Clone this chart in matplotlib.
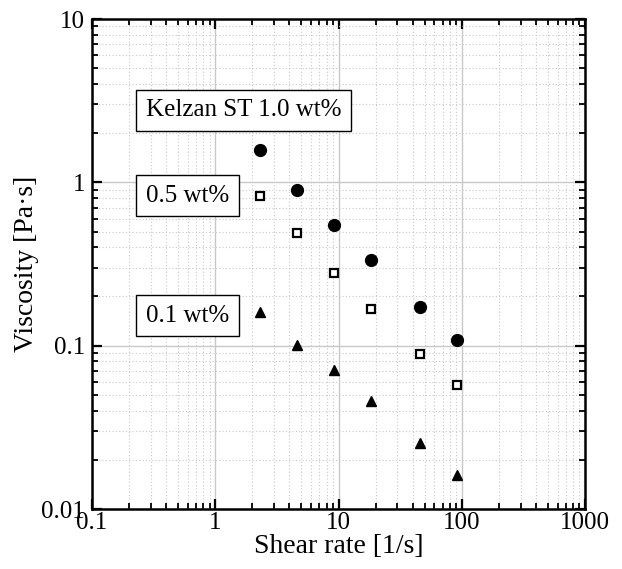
import matplotlib
matplotlib.use("Agg")
import matplotlib.pyplot as plt
from matplotlib.ticker import LogLocator, FixedLocator, FixedFormatter

plt.rcParams['font.family'] = ['Liberation Serif', 'DejaVu Serif']

shear_rate = [2.3, 4.6, 9.2, 18.5, 46, 92]
visc_10 = [1.57, 0.90, 0.55, 0.333, 0.173, 0.109]
visc_05 = [0.82, 0.49, 0.278, 0.168, 0.0885, 0.0574]
visc_01 = [0.161, 0.101, 0.0706, 0.0456, 0.0252, 0.0162]

xticks = [0.1, 1, 10, 100, 1000]
xticklabels = ["0.1", "1", "10", "100", "1000"]
yticks = [0.01, 0.1, 1, 10]
yticklabels = ["0.01", "0.1", "1", "10"]

fig = plt.figure(figsize=(6.22, 5.69), dpi=100)
ax = fig.add_axes([92/622, 1-509/569, 493/622, 490/569])
ax.set_xscale('log')
ax.set_yscale('log')
ax.set_xlim(0.1, 1000)
ax.set_ylim(0.01, 10)

ax.plot(shear_rate, visc_10, 'o', color='black', markersize=8.5, zorder=3)
ax.plot(shear_rate, visc_05, 's', markerfacecolor='white', markeredgecolor='black',
        markeredgewidth=1.6, markersize=6, zorder=3)
ax.plot(shear_rate, visc_01, '^', color='black', markersize=7.5, zorder=3)

ax.xaxis.set_major_locator(FixedLocator(xticks))
ax.xaxis.set_major_formatter(FixedFormatter(xticklabels))
ax.yaxis.set_major_locator(FixedLocator(yticks))
ax.yaxis.set_major_formatter(FixedFormatter(yticklabels))
ax.xaxis.set_minor_locator(LogLocator(base=10, subs=range(2, 10), numticks=20))
ax.yaxis.set_minor_locator(LogLocator(base=10, subs=range(2, 10), numticks=20))
ax.xaxis.set_minor_formatter(plt.NullFormatter())
ax.yaxis.set_minor_formatter(plt.NullFormatter())

ax.grid(which='major', color='#c8c8c8', linewidth=1.0, linestyle='-')
ax.grid(which='minor', color='#c8c8c8', linewidth=0.8, linestyle=(0, (1, 2)))
ax.set_axisbelow(True)

ax.tick_params(which='both', direction='in', top=True, right=True, labelsize=18)
ax.tick_params(which='major', length=7, width=1.6)
ax.tick_params(axis='y', which='major', pad=5)
ax.tick_params(axis='x', which='major', pad=2)
ax.tick_params(which='minor', length=4, width=1.3)
for s in ax.spines.values():
    s.set_linewidth(1.8)

ax.set_xlabel("Shear rate [1/s]", fontsize=20, labelpad=0)
ax.set_ylabel("Viscosity [Pa·s]", fontsize=20, labelpad=2)

box = dict(boxstyle='square,pad=0.38', facecolor='white', edgecolor='black', linewidth=1.0)
ax.text(0.1095, 0.814, "Kelzan ST 1.0 wt%", transform=ax.transAxes, fontsize=18,
        va='center', ha='left', bbox=box, zorder=4)
ax.text(0.1095, 0.639, "0.5 wt%", transform=ax.transAxes, fontsize=18,
        va='center', ha='left', bbox=box, zorder=4)
ax.text(0.1095, 0.394, "0.1 wt%", transform=ax.transAxes, fontsize=18,
        va='center', ha='left', bbox=box, zorder=4)

fig.savefig("out.png", dpi=100)
